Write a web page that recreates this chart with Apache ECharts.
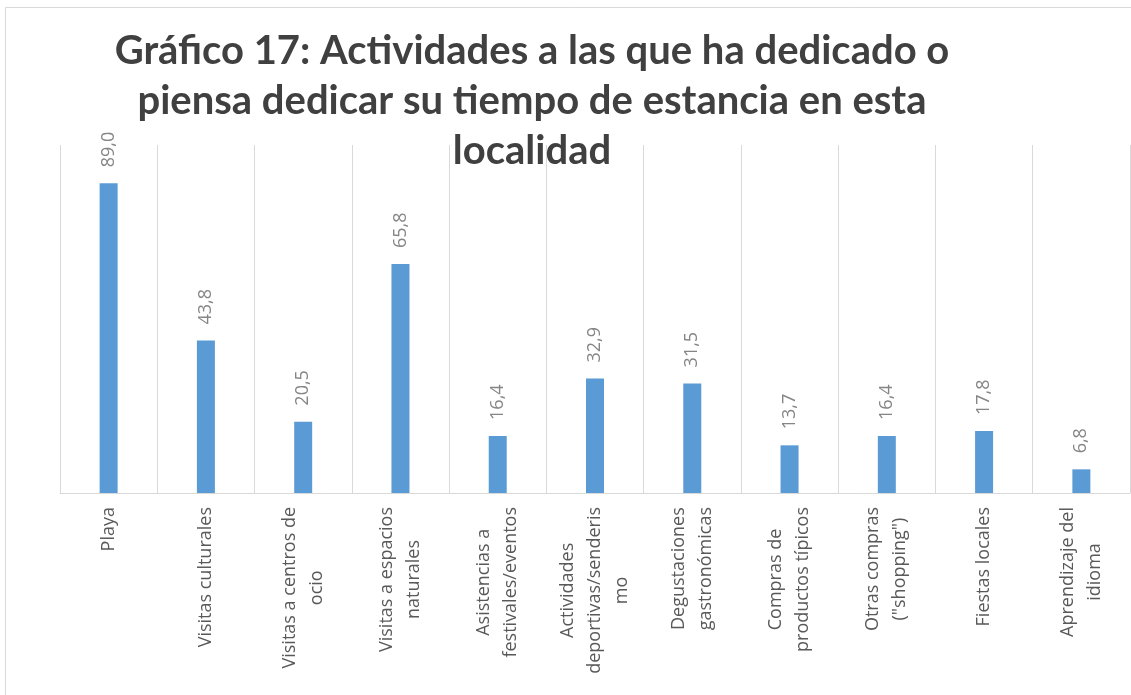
<!DOCTYPE html>
<html><head><meta charset="utf-8">
<script src="https://cdn.jsdelivr.net/npm/echarts@6/dist/echarts.min.js"></script>
<style>html,body{margin:0;padding:0;background:#fff}#c{width:1131px;height:695px}</style>
</head><body><div id="c"></div>
<script>
const titleText = "Gráfico 17: Actividades a las que ha dedicado o\npiensa dedicar su tiempo de estancia en esta\nlocalidad";
const categories = ["Playa", "Visitas culturales", "Visitas a centros de\nocio", "Visitas a espacios\nnaturales", "Asistencias a\nfestivales/eventos", "Actividades\ndeportivas/senderis\nmo", "Degustaciones\ngastronómicas", "Compras de\nproductos típicos", "Otras compras\n(\"shopping\")", "Fiestas locales", "Aprendizaje del\nidioma"];
const values = [89.0, 43.8, 20.5, 65.8, 16.4, 32.9, 31.5, 13.7, 16.4, 17.8, 6.8];

const chart = echarts.init(document.getElementById('c'), null, {renderer: 'canvas'});
chart.setOption({
  animation: false,
  backgroundColor: '#ffffff',
  graphic: [{
    type: 'rect', silent: true, z: -10,
    shape: {x: 5.5, y: 7.5, width: 1140, height: 700},
    style: {fill: 'none', stroke: '#d9d9d9', lineWidth: 1}
  }],
  title: {
    text: titleText,
    left: 527, top: 21, textAlign: 'center',
    textStyle: {fontFamily: 'Lato', fontWeight: 'bold', fontSize: 40, lineHeight: 50, color: '#404040'}
  },
  grid: {left: 60, right: 1, top: 145, bottom: 202, containLabel: false},
  xAxis: {
    type: 'category', data: categories,
    axisLine: {show: true, lineStyle: {color: '#d9d9d9', width: 1}},
    axisTick: {show: false},
    splitLine: {show: true, interval: 0, lineStyle: {color: '#d9d9d9', width: 1}},
    axisLabel: {
      interval: 0, rotate: 90, margin: 14,
      formatter: v => v.split('\n').map(l => '{c|' + l + '}').join('\n'),
      rich: {c: {align: 'center', fontFamily: 'Open Sans', fontSize: 18, lineHeight: 27, color: '#595959'}}
    }
  },
  yAxis: {type: 'value', min: 0, max: 100, show: false},
  series: [{
    type: 'bar', data: values, barWidth: 18,
    itemStyle: {color: '#5B9BD5'},
    label: {
      show: true, position: 'top', rotate: 90, align: 'left', verticalAlign: 'middle', distance: 16,
      formatter: p => p.value.toFixed(1).replace('.', ','),
      fontFamily: 'Open Sans', fontSize: 18, color: '#858585'
    }
  }]
});
</script></body></html>
